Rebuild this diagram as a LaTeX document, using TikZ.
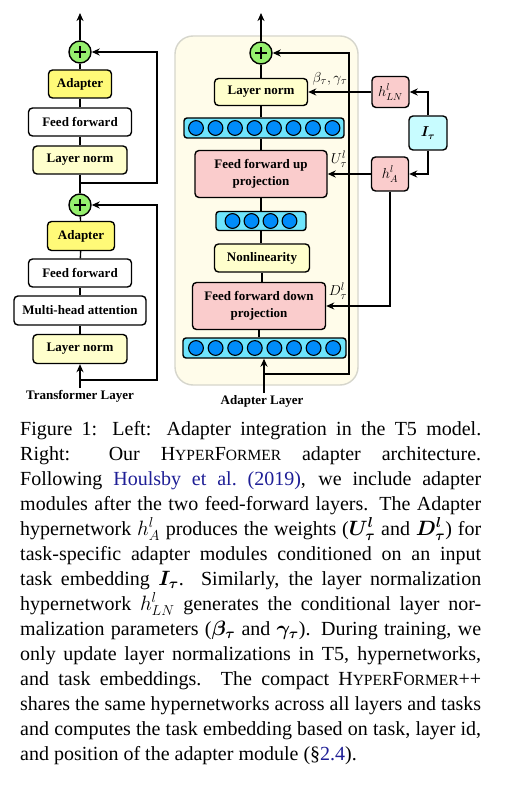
\documentclass[tikz,border=0pt]{standalone}
\usepackage{amsmath}
\usepackage{bm}
\usepackage[no-math]{fontspec}
\setmainfont{Liberation Serif}
\usetikzlibrary{arrows.meta}
\definecolor{plusgreen}{RGB}{150,240,110}
\definecolor{adyellow}{RGB}{255,250,120}
\definecolor{lnyellow}{RGB}{255,255,204}
\definecolor{pinkbox}{RGB}{250,204,204}
\definecolor{barcyan}{RGB}{110,228,252}
\definecolor{neuron}{RGB}{0,140,250}
\definecolor{itcyan}{RGB}{200,252,255}
\definecolor{panel}{RGB}{255,252,234}
\definecolor{panelborder}{RGB}{214,214,204}
\definecolor{linkblue}{RGB}{30,30,150}
\newcommand{\hfname}{H{\fontsize{15.5}{25}\selectfont YPER}F{\fontsize{15.5}{25}\selectfont ORMER}}
\newcommand{\capline}[1]{\makebox[461pt][s]{#1}}
\tikzset{
  blk/.style={draw=black,line width=1.4pt,rounded corners=4pt,align=center,inner sep=0pt,
    font=\fontsize{13}{15}\selectfont\bfseries},
  plusnode/.style={draw=black,line width=1.4pt,circle,fill=plusgreen,minimum size=22pt,inner sep=0pt},
  bar/.style={draw=black,line width=1.4pt,rounded corners=3pt,fill=barcyan,inner sep=0pt},
  neu/.style={draw=black,line width=1.1pt,fill=neuron},
  con/.style={line width=1.4pt},
  arr/.style={line width=1.4pt,-{Stealth[length=8pt,width=7pt,inset=2.5pt]}},
  lbl/.style={font=\fontsize{15}{17}\selectfont,inner sep=0pt},
  layercap/.style={font=\fontsize{13}{15}\selectfont\bfseries,inner sep=0pt}
}
\newcommand{\plussign}[1]{\draw[line width=1.8pt] ([xshift=-6pt]#1.center) -- ([xshift=6pt]#1.center) ([yshift=-6pt]#1.center) -- ([yshift=6pt]#1.center);}
\begin{document}
\begin{tikzpicture}[x=1pt,y=-1pt]
\useasboundingbox[fill=white] (0,0) rectangle (522,786);

% ---------------- Left: Transformer layer
\node[plusnode] (c1) at (80,52) {};
\plussign{c1}
\node[blk,fill=adyellow,minimum width=63pt,minimum height=28pt] (ad1) at (80,84) {Adapter};
\node[blk,fill=white,minimum width=103pt,minimum height=28pt] (ff1) at (80,122) {Feed forward};
\node[blk,fill=lnyellow,minimum width=94pt,minimum height=28pt] (ln1) at (80,160) {Layer norm};
\node[plusnode] (c2) at (80,205) {};
\plussign{c2}
\node[blk,fill=adyellow,minimum width=67pt,minimum height=29pt] (ad2) at (81,236) {Adapter};
\node[blk,fill=white,minimum width=103pt,minimum height=28pt] (ff2) at (80,273) {Feed forward};
\node[blk,fill=white,minimum width=132pt,minimum height=29pt] (mha) at (80,310.5) {Multi-head attention};
\node[blk,fill=lnyellow,minimum width=94pt,minimum height=29pt] (ln2) at (80,349) {Layer norm};
\node[layercap] (tl) at (80,396) {Transformer Layer};

\coordinate (top1) at (80,13);
\coordinate (r1) at (80,183);
\coordinate (r1e) at (157,183);
\coordinate (r2) at (80,380);
\coordinate (r2e) at (157,380);
\coordinate (in1) at (80,388);

\draw[arr] (c1) -- (top1);
\draw[con] (ad1) -- (c1);
\draw[con] (ff1) -- (ad1);
\draw[con] (ln1) -- (ff1);
\draw[con] (ln1) -- (c2);
\draw[con] (ad2) -- (c2);
\draw[con] (ff2) -- (ad2);
\draw[con] (mha) -- (ff2);
\draw[con] (ln2) -- (mha);
\draw[arr] (in1) -- (ln2);
\draw[arr] (r1) -- (r1e) |- (c1);
\draw[arr] (r2) -- (r2e) |- (c2);

% ---------------- Right: Adapter layer
\draw[panelborder,fill=panel,line width=1.4pt,rounded corners=18pt] (175,36) rectangle (358,385);
\node[plusnode] (c3) at (261,53) {};
\plussign{c3}
\node[blk,fill=lnyellow,minimum width=93pt,minimum height=27pt] (lnR) at (261,92) {Layer norm};
\node[bar,minimum width=160pt,minimum height=20pt] (bar1) at (264,128) {};
\foreach \i in {0,...,7} {\draw[neu] (196+\i*19.5,128) circle (7.4pt);}
\node[blk,fill=pinkbox,minimum width=132pt,minimum height=47pt] (ffup) at (261,174) {Feed forward up\\[2pt]projection};
\node[bar,minimum width=90pt,minimum height=19pt] (bar2) at (261,221) {};
\foreach \i in {0,...,3} {\draw[neu] (232.5+\i*19,221) circle (7.4pt);}
\node[blk,fill=lnyellow,minimum width=95pt,minimum height=28pt] (nonlin) at (262,258) {Nonlinearity};
\node[blk,fill=pinkbox,minimum width=133pt,minimum height=47pt] (ffdown) at (259,306) {Feed forward down\\[2pt]projection};
\node[bar,minimum width=163pt,minimum height=20pt] (bar3) at (264.5,348) {};
\foreach \i in {0,...,7} {\draw[neu] (196+\i*19.6,348) circle (7.4pt);}
\node[layercap] (al) at (262,401) {Adapter Layer};

\coordinate (top3) at (261,13);
\coordinate (r3) at (264,374);
\coordinate (r3e) at (349,374);
\coordinate (in3) at (264,393);

\draw[arr] (c3) -- (top3);
\draw[con] (lnR) -- (c3);
\draw[con] (bar1.north -| lnR) -- (lnR);
\draw[con] (ffup) -- (ffup |- bar1.south);
\draw[con] (ffup) -- (ffup |- bar2.north);
\draw[con] (nonlin.north -| bar2) -- (bar2);
\draw[con] (ffdown.north -| nonlin) -- (nonlin);
\draw[con] (ffdown) -- (ffdown |- bar3.north);
\draw[arr] (in3) -- (in3 |- bar3.south);
\draw[arr] (r3) -- (r3e) |- (c3);

% ---------------- Hypernetworks
\node[blk,fill=pinkbox,minimum width=37pt,minimum height=31pt,font=\fontsize{14}{16}\selectfont] (hln) at (390.5,92) {$h^{l}_{LN}$};
\node[blk,fill=itcyan,minimum width=38pt,minimum height=34pt,font=\fontsize{14}{16}\selectfont] (it) at (428,133) {$\bm{I_\tau}$};
\node[blk,fill=pinkbox,minimum width=37pt,minimum height=34pt,font=\fontsize{14}{16}\selectfont] (ha) at (390,174) {$h^{l}_{A}$};

\draw[arr] (it.north) |- (hln.east);
\draw[arr] (it.south) |- (ha.east);
\draw[arr] (hln.west) -- (lnR.east);
\draw[arr] (ha.west) -- (ffup.east);
\draw[arr] (ha.south) |- (ffdown.east);

\node[lbl] (lb1) at (330,79) {$\beta_\tau, \gamma_\tau$};
\node[lbl] (lb2) at (339,159) {$U^{l}_{\tau}$};
\node[lbl] (lb3) at (338,291) {$D^{l}_{\tau}$};

% ---------------- Caption
\node[anchor=north west,inner sep=0pt,align=left,
  font=\fontsize{20}{25}\selectfont] (caption) at (20,421) {%
\capline{Figure 1:  Left:  Adapter integration in the T5 model.}\\
\capline{Right: Our \hfname{} adapter architecture.}\\
\capline{Following \textcolor{linkblue}{Houlsby et al.\ (2019)}, we include adapter}\\
\capline{modules after the two feed-forward layers. The Adapter}\\
\capline{hypernetwork $h^{l}_{A}$ produces the weights ($\bm{U^{l}_{\tau}}$ and $\bm{D^{l}_{\tau}}$) for}\\
\capline{task-specific adapter modules conditioned on an input}\\
\capline{task embedding $\bm{I_\tau}$.  Similarly, the layer normalization}\\
\capline{hypernetwork $h^{l}_{LN}$ generates the conditional layer nor-}\\
\capline{malization parameters ($\bm{\beta_\tau}$ and $\bm{\gamma_\tau}$). During training, we}\\
\capline{only update layer normalizations in T5, hypernetworks,}\\
\capline{and task embeddings.  The compact \hfname++}\\
\capline{shares the same hypernetworks across all layers and tasks}\\
\capline{and computes the task embedding based on task, layer id,}\\
and position of the adapter module (§\textcolor{linkblue}{2.4}).};
\end{tikzpicture}
\end{document}
